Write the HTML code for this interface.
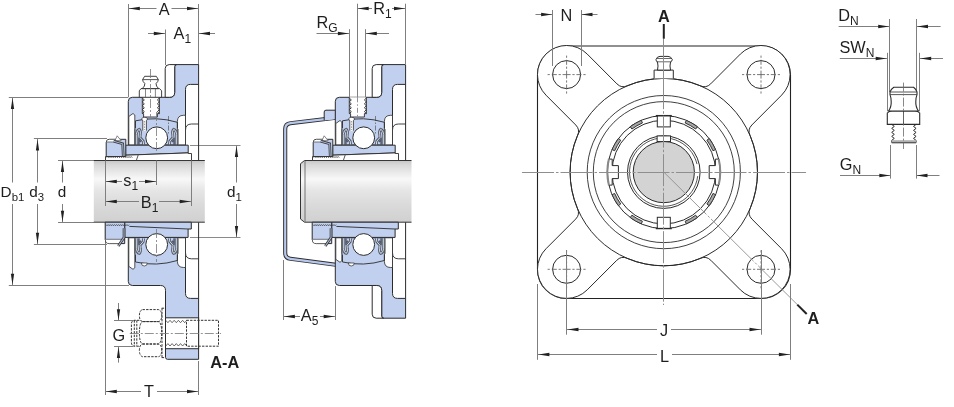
<!DOCTYPE html><html><head><meta charset="utf-8"><style>
html,body{margin:0;padding:0;background:#fff;width:954px;height:407px;overflow:hidden}
svg{display:block;font-family:"Liberation Sans",sans-serif;will-change:transform}
</style></head><body>
<svg width="954" height="407" viewBox="0 0 954 407">
<defs><linearGradient id="sg" x1="0" y1="0" x2="0" y2="1"><stop offset="0" stop-color="#c6c6c6"/><stop offset="0.07" stop-color="#d8d8d8"/><stop offset="0.3" stop-color="#f8f8f8"/><stop offset="0.48" stop-color="#e6e6e6"/><stop offset="0.72" stop-color="#dadada"/><stop offset="1" stop-color="#d0d0d0"/></linearGradient><linearGradient id="sgh" x1="0" y1="0" x2="1" y2="0"><stop offset="0" stop-color="#fff" stop-opacity="0.7"/><stop offset="0.1" stop-color="#fff" stop-opacity="0"/><stop offset="0.9" stop-color="#fff" stop-opacity="0"/><stop offset="1" stop-color="#fff" stop-opacity="0.7"/></linearGradient></defs>
<line x1="128.50" y1="4.00" x2="128.50" y2="97.00" stroke="#7f7f7f" stroke-width="1.0" />
<line x1="198.50" y1="4.00" x2="198.50" y2="65.00" stroke="#7f7f7f" stroke-width="1.0" />
<line x1="128.30" y1="8.50" x2="156.50" y2="8.50" stroke="#7f7f7f" stroke-width="1.0" />
<line x1="171.50" y1="8.50" x2="198.50" y2="8.50" stroke="#7f7f7f" stroke-width="1.0" />
<polygon points="128.80,8.50 139.80,6.85 139.80,10.15" fill="#222"/>
<polygon points="198.00,8.50 187.00,6.85 187.00,10.15" fill="#222"/>
<text x="164.2" y="14.6" font-size="16.3" font-weight="normal" text-anchor="middle" fill="#1e1e1e">A</text>
<line x1="165.50" y1="29.50" x2="165.50" y2="65.00" stroke="#7f7f7f" stroke-width="1.0" />
<line x1="148.00" y1="33.50" x2="165.30" y2="33.50" stroke="#7f7f7f" stroke-width="1.0" />
<polygon points="164.80,33.50 153.80,31.85 153.80,35.15" fill="#222"/>
<line x1="198.50" y1="33.50" x2="215.00" y2="33.50" stroke="#7f7f7f" stroke-width="1.0" />
<polygon points="199.00,33.50 210.00,31.85 210.00,35.15" fill="#222"/>
<text x="173.5" y="39.2" font-size="16.3" fill="#1e1e1e">A<tspan font-size="12" dy="4">1</tspan></text>
<line x1="8.80" y1="97.50" x2="128.30" y2="97.50" stroke="#7f7f7f" stroke-width="1.0" />
<line x1="8.80" y1="285.50" x2="129.00" y2="285.50" stroke="#7f7f7f" stroke-width="1.0" />
<line x1="12.50" y1="97.40" x2="12.50" y2="182.50" stroke="#7f7f7f" stroke-width="1.0" />
<line x1="12.50" y1="204.00" x2="12.50" y2="285.20" stroke="#7f7f7f" stroke-width="1.0" />
<polygon points="12.50,97.90 10.85,108.90 14.15,108.90" fill="#222"/>
<polygon points="12.50,284.70 10.85,273.70 14.15,273.70" fill="#222"/>
<text x="0.6" y="197" font-size="15.3" fill="#1e1e1e">D<tspan font-size="11.4" dy="3.6">b1</tspan></text>
<line x1="33.90" y1="138.50" x2="107.00" y2="138.50" stroke="#7f7f7f" stroke-width="1.0" />
<line x1="33.90" y1="244.50" x2="107.00" y2="244.50" stroke="#7f7f7f" stroke-width="1.0" />
<line x1="37.50" y1="138.90" x2="37.50" y2="182.50" stroke="#7f7f7f" stroke-width="1.0" />
<line x1="37.50" y1="204.00" x2="37.50" y2="244.20" stroke="#7f7f7f" stroke-width="1.0" />
<polygon points="37.50,139.40 35.85,150.40 39.15,150.40" fill="#222"/>
<polygon points="37.50,243.70 35.85,232.70 39.15,232.70" fill="#222"/>
<text x="29.2" y="197" font-size="15.3" fill="#1e1e1e">d<tspan font-size="11.4" dy="3.6">3</tspan></text>
<line x1="58.00" y1="160.50" x2="94.00" y2="160.50" stroke="#7f7f7f" stroke-width="1.0" />
<line x1="58.00" y1="222.50" x2="94.00" y2="222.50" stroke="#7f7f7f" stroke-width="1.0" />
<line x1="62.50" y1="160.50" x2="62.50" y2="182.50" stroke="#7f7f7f" stroke-width="1.0" />
<line x1="62.50" y1="204.00" x2="62.50" y2="222.20" stroke="#7f7f7f" stroke-width="1.0" />
<polygon points="62.50,161.00 60.85,172.00 64.15,172.00" fill="#222"/>
<polygon points="62.50,221.70 60.85,210.70 64.15,210.70" fill="#222"/>
<text x="57.8" y="197" font-size="15.3" font-weight="normal" text-anchor="start" fill="#1e1e1e">d</text>
<line x1="190.00" y1="145.50" x2="240.50" y2="145.50" stroke="#8a8a8a" stroke-width="1.0" />
<line x1="190.00" y1="237.50" x2="240.50" y2="237.50" stroke="#8a8a8a" stroke-width="1.0" />
<line x1="236.50" y1="145.50" x2="236.50" y2="182.50" stroke="#7f7f7f" stroke-width="1.0" />
<line x1="236.50" y1="204.00" x2="236.50" y2="237.50" stroke="#7f7f7f" stroke-width="1.0" />
<polygon points="236.50,145.90 234.85,156.90 238.15,156.90" fill="#222"/>
<polygon points="236.50,237.10 234.85,226.10 238.15,226.10" fill="#222"/>
<text x="227" y="197" font-size="15.3" fill="#1e1e1e">d<tspan font-size="11.4" dy="3.6">1</tspan></text>
<line x1="114.00" y1="320.50" x2="133.00" y2="320.50" stroke="#7f7f7f" stroke-width="1.0" />
<line x1="114.00" y1="346.50" x2="133.00" y2="346.50" stroke="#7f7f7f" stroke-width="1.0" />
<line x1="118.50" y1="303.00" x2="118.50" y2="320.70" stroke="#7f7f7f" stroke-width="1.0" />
<polygon points="118.50,320.20 116.85,309.20 120.15,309.20" fill="#222"/>
<line x1="118.50" y1="346.40" x2="118.50" y2="362.60" stroke="#7f7f7f" stroke-width="1.0" />
<polygon points="118.50,346.90 116.85,357.90 120.15,357.90" fill="#222"/>
<text x="112.5" y="340.5" font-size="16.3" font-weight="normal" text-anchor="start" fill="#1e1e1e">G</text>
<line x1="105.50" y1="222.00" x2="105.50" y2="395.00" stroke="#7f7f7f" stroke-width="1.0" />
<line x1="198.50" y1="361.00" x2="198.50" y2="395.00" stroke="#7f7f7f" stroke-width="1.0" />
<line x1="105.30" y1="391.50" x2="141.00" y2="391.50" stroke="#7f7f7f" stroke-width="1.0" />
<line x1="157.00" y1="391.50" x2="198.50" y2="391.50" stroke="#7f7f7f" stroke-width="1.0" />
<polygon points="105.80,391.50 116.80,389.85 116.80,393.15" fill="#222"/>
<polygon points="198.00,391.50 187.00,389.85 187.00,393.15" fill="#222"/>
<text x="149" y="397.3" font-size="16.3" font-weight="normal" text-anchor="middle" fill="#1e1e1e">T</text>
<text x="210.3" y="367.5" font-size="16.3" font-weight="bold" text-anchor="start" fill="#1e1e1e">A-A</text>
<rect x="93.8" y="160.5" width="111.00000000000001" height="61.7" fill="url(#sg)"/>
<line x1="93.8" y1="160.5" x2="204.8" y2="160.5" stroke="#333" stroke-width="1"/>
<line x1="93.8" y1="222.2" x2="204.8" y2="222.2" stroke="#333" stroke-width="1"/>
<path d="M128.3 101.3 Q128.3 97.3 132.3 97.3 L169.7 97.3 Q174.7 97.3 174.7 92.3 L174.7 66.6 Q174.7 64.6 176.7 64.6 L198.6 64.6 L198.6 84.4 L190.5 84.4 Q185.5 84.4 185.5 89.4 L185.5 145 L128.3 145 Z" fill="#c1d0ef" stroke="#2b2b2b" stroke-width="1"/><path d="M165.2 97.3 L165.2 68.6 Q165.2 64.6 169.2 64.6 L176.7 64.6 Q174.7 64.6 174.7 66.6 L174.7 92.3 Q174.7 97.3 169.7 97.3 Z" fill="#fff" stroke="#2b2b2b" stroke-width="1"/>
<line x1="198.6" y1="84.2" x2="198.6" y2="160.5" stroke="#2b2b2b" stroke-width="1"/><path d="M185.5 130 Q185.5 124 191.5 124 L198.6 124" fill="none" stroke="#2b2b2b" stroke-width="0.9"/><path d="M128.8 116.5 L133 113.5 L134.8 115 L134.8 145 L128.8 145 Z" fill="#fff" stroke="#2b2b2b" stroke-width="0.8"/><line x1="168.5" y1="116" x2="168.5" y2="134" stroke="#666" stroke-width="0.8" stroke-dasharray="5 1.5 1.5 1.5"/><path d="M177.4 145 L177.4 121.5 Q177.4 115.3 183.6 115.3 L185.5 115.3 L185.5 145 Z" fill="#fff" stroke="#2b2b2b" stroke-width="0.8"/><path d="M135.5 128.3 L135.5 120.8 Q156.5 116 177.4 122.3 L177.4 128.3" fill="none" stroke="#2b2b2b" stroke-width="0.9"/><path d="M136.30 144.5 L136.30 134.5 Q136.80 130 139.30 129.3 Q141.00 131 140.30 134.5 L140.00 137.5 L143.20 141.2 L143.60 144.5" fill="none" stroke="#535b6b" stroke-width="2.8"/><path d="M136.30 144.5 L136.30 134.5 Q136.80 130 139.30 129.3 Q141.00 131 140.30 134.5 L140.00 137.5 L143.20 141.2 L143.60 144.5" fill="none" stroke="#e9edf5" stroke-width="0.9"/><path d="M138.90 144.5 L138.90 139.5 L141.00 142" fill="none" stroke="#535b6b" stroke-width="1.6"/><path d="M134.90 129 L134.90 144.5" fill="none" stroke="#555" stroke-width="0.9"/><path d="M176.70 144.5 L176.70 134.5 Q176.20 130 173.70 129.3 Q172.00 131 172.70 134.5 L173.00 137.5 L169.80 141.2 L169.40 144.5" fill="none" stroke="#535b6b" stroke-width="2.8"/><path d="M176.70 144.5 L176.70 134.5 Q176.20 130 173.70 129.3 Q172.00 131 172.70 134.5 L173.00 137.5 L169.80 141.2 L169.40 144.5" fill="none" stroke="#e9edf5" stroke-width="0.9"/><path d="M174.10 144.5 L174.10 139.5 L172.00 142" fill="none" stroke="#535b6b" stroke-width="1.6"/><path d="M178.10 129 L178.10 144.5" fill="none" stroke="#555" stroke-width="0.9"/><path d="M142.8 130.7 L142.8 120.5 Q141.6 120 141.8 118.8 Q142.5 117 144.6 117 Q146.7 117 147.4 118.8 Q147.6 120 146.4 120.5 L146.4 130.7" fill="#fff" stroke="#2b2b2b" stroke-width="0.8"/><line x1="144.6" y1="121" x2="144.6" y2="130" stroke="#777" stroke-width="0.8" stroke-dasharray="1.5 1.2"/><path d="M142.3 97.3 L142.3 113.6 L143.6 113.6 L143.6 117 L157.4 117 L157.4 113.6 L159.4 113.6 L159.4 97.3" fill="#fff" stroke="#2b2b2b" stroke-width="0.9"/><path d="M142.3 98.0 l2 1.95 l-2 1.95 M159.4 98.0 l-2 1.95 l2 1.95 M142.3 101.9 l2 1.95 l-2 1.95 M159.4 101.9 l-2 1.95 l2 1.95 M142.3 105.8 l2 1.95 l-2 1.95 M159.4 105.8 l-2 1.95 l2 1.95 M142.3 109.7 l2 1.95 l-2 1.95 M159.4 109.7 l-2 1.95 l2 1.95 " fill="none" stroke="#333" stroke-width="1"/><path d="M125.6 145.2 L188.2 145.2 L188.2 152.9 L125.6 155.2 Z" fill="#c1d0ef" stroke="#2b2b2b" stroke-width="1"/><path d="M106.2 156.5 L106.2 142.5 Q106.2 139.3 109.4 139.3 L125.8 139.3 L125.8 156.5 Z" fill="#c1d0ef" stroke="#2b2b2b" stroke-width="1"/><path d="M106.7 142 L106.7 142.5 Q106.7 139.8 109.4 139.8 L116 139.8 L113.6 142 Z" fill="#fff"/><line x1="106.2" y1="142" x2="113.6" y2="142" stroke="#555" stroke-width="0.8"/><path d="M117.2 135.8 L121.2 140.8 L115 140.5 Z" fill="#fff" stroke="#555" stroke-width="0.7"/><path d="M113.6 141.3 L122.7 143.8 L123.2 156.3" fill="none" stroke="#333" stroke-width="2.6"/><path d="M113.6 141.3 L122.7 143.8 L123.2 156.3" fill="none" stroke="#a9b6d0" stroke-width="1.1"/><path d="M105.5 160.5 L105.5 156.5 L125.8 156.5 L125.8 155.2 L188.2 152.9 L188.2 153.5 L191.5 153.5 L191.5 160.5 Z" fill="#fff" stroke="#2b2b2b" stroke-width="0.9"/><path d="M106.8 157.6 l1.06 -1.1 l1.06 1.1 l1.06 -1.1 l1.06 1.1 l1.06 -1.1 l1.06 1.1 l1.06 -1.1 l1.06 1.1 l1.06 -1.1 l1.06 1.1 l1.06 -1.1 l1.06 1.1 l1.06 -1.1 l1.06 1.1 l1.06 -1.1 l1.06 1.1 l1.06 -1.1 l1.06 1.1 l1.06 -1.1 l1.06 1.1 l1.06 -1.1 l1.06 1.1 l1.06 -1.1 l1.06 1.1 " fill="none" stroke="#333" stroke-width="0.8"/><line x1="138.2" y1="155" x2="136.4" y2="160.3" stroke="#444" stroke-width="0.9"/><circle cx="156.7" cy="137.8" r="10.9" fill="#fff" stroke="#2b2b2b" stroke-width="1"/>
<path d="M139.3 97.3 L139.3 90.8 L141 88.6 L159.6 88.6 L161.6 90.8 L161.6 97.3 Z" fill="#fff" stroke="#2b2b2b" stroke-width="0.9"/><line x1="145.5" y1="88.6" x2="145.5" y2="97.3" stroke="#555" stroke-width="0.7"/><line x1="155.4" y1="88.6" x2="155.4" y2="97.3" stroke="#555" stroke-width="0.7"/><path d="M142.3 88.6 Q145.2 86 144.8 83.5 Q142.6 81.5 142.6 79.6 L144.6 76.3 L156.3 76.3 L158.3 79.6 Q158.3 81.5 156.1 83.5 Q155.7 86 158.6 88.6 Z" fill="#fff" stroke="#2b2b2b" stroke-width="0.9"/><line x1="142.6" y1="79.6" x2="158.3" y2="79.6" stroke="#444" stroke-width="0.9"/>
<line x1="150.50" y1="69.00" x2="150.50" y2="117.00" stroke="#777" stroke-width="0.8" stroke-dasharray="9 2 2 2"/>
<path d="M128.3 237 L128.3 281.5 Q128.3 285.5 132.3 285.5 L160.5 285.5 Q165.5 285.5 165.5 290.5 L165.5 357.3 Q165.5 359.3 167.5 359.3 L198.6 359.3 L198.6 298.4 L190.5 298.4 Q185.5 298.4 185.5 293.4 L185.5 237 Z" fill="#c1d0ef" stroke="#2b2b2b" stroke-width="1"/>
<g transform="translate(0 382.8) scale(1 -1)"><line x1="198.6" y1="84.2" x2="198.6" y2="160.5" stroke="#2b2b2b" stroke-width="1"/><path d="M185.5 130 Q185.5 124 191.5 124 L198.6 124" fill="none" stroke="#2b2b2b" stroke-width="0.9"/><path d="M128.8 116.5 L133 113.5 L134.8 115 L134.8 145 L128.8 145 Z" fill="#fff" stroke="#2b2b2b" stroke-width="0.8"/><path d="M177.4 145 L177.4 121.5 Q177.4 115.3 183.6 115.3 L185.5 115.3 L185.5 145 Z" fill="#fff" stroke="#2b2b2b" stroke-width="0.8"/><path d="M135.5 128.3 L135.5 120.8 Q156.5 116 177.4 122.3 L177.4 128.3" fill="none" stroke="#2b2b2b" stroke-width="0.9"/><path d="M136.30 144.5 L136.30 134.5 Q136.80 130 139.30 129.3 Q141.00 131 140.30 134.5 L140.00 137.5 L143.20 141.2 L143.60 144.5" fill="none" stroke="#535b6b" stroke-width="2.8"/><path d="M136.30 144.5 L136.30 134.5 Q136.80 130 139.30 129.3 Q141.00 131 140.30 134.5 L140.00 137.5 L143.20 141.2 L143.60 144.5" fill="none" stroke="#e9edf5" stroke-width="0.9"/><path d="M138.90 144.5 L138.90 139.5 L141.00 142" fill="none" stroke="#535b6b" stroke-width="1.6"/><path d="M134.90 129 L134.90 144.5" fill="none" stroke="#555" stroke-width="0.9"/><path d="M176.70 144.5 L176.70 134.5 Q176.20 130 173.70 129.3 Q172.00 131 172.70 134.5 L173.00 137.5 L169.80 141.2 L169.40 144.5" fill="none" stroke="#535b6b" stroke-width="2.8"/><path d="M176.70 144.5 L176.70 134.5 Q176.20 130 173.70 129.3 Q172.00 131 172.70 134.5 L173.00 137.5 L169.80 141.2 L169.40 144.5" fill="none" stroke="#e9edf5" stroke-width="0.9"/><path d="M174.10 144.5 L174.10 139.5 L172.00 142" fill="none" stroke="#535b6b" stroke-width="1.6"/><path d="M178.10 129 L178.10 144.5" fill="none" stroke="#555" stroke-width="0.9"/><path d="M141.3 119.8 A3 3 0 0 1 147.3 119.8 Z" fill="#fff" stroke="#2b2b2b" stroke-width="0.7"/></g><path d="M124.7 222.2 L191.3 222.2 L191.3 229 L188.1 229 L188.1 237.4 L124.7 237.4 Z" fill="#c1d0ef" stroke="#2b2b2b" stroke-width="1"/><path d="M129.4 226.4 L188.1 229" fill="none" stroke="#2b2b2b" stroke-width="0.9"/><path d="M105.2 222.2 L124.7 222.2 L124.7 243.6 L109.2 243.6 Q105.2 243.6 105.2 239.6 Z" fill="#c1d0ef" stroke="#2b2b2b" stroke-width="1"/><path d="M105.6 239.3 L123 239.3 L120.5 243.2 L109.2 243.2 Q105.6 243.2 105.6 239.6 Z" fill="#fff" stroke="none"/><line x1="105.2" y1="239.3" x2="123" y2="239.3" stroke="#555" stroke-width="0.8"/><path d="M124 228.3 L124 237.5 L118.3 246" fill="none" stroke="#333" stroke-width="2.6"/><path d="M124 228.3 L124 237.5 L118.3 246" fill="none" stroke="#a9b6d0" stroke-width="1.1"/><path d="M106 224.6 l1.05 1.1 l1.05 -1.1 l1.05 1.1 l1.05 -1.1 l1.05 1.1 l1.05 -1.1 l1.05 1.1 l1.05 -1.1 l1.05 1.1 l1.05 -1.1 l1.05 1.1 l1.05 -1.1 l1.05 1.1 l1.05 -1.1 l1.05 1.1 l1.05 -1.1 l1.05 1.1 l1.05 -1.1 l1.05 1.1 l1.05 -1.1 l1.05 1.1 l1.05 -1.1 " fill="none" stroke="#333" stroke-width="0.8"/><circle cx="156.7" cy="244.5" r="10.9" fill="#fff" stroke="#2b2b2b" stroke-width="1"/>
<rect x="165.5" y="317.8" width="33.1" height="30.9" fill="#fff" stroke="#2b2b2b" stroke-width="1"/>
<path d="M165.8 320.3 l2.1 2.4 l2.1 -2.4 l2.1 2.4 l2.1 -2.4 l2.1 2.4 l2.1 -2.4 l2.1 2.4 l2.1 -2.4 l2.1 2.4 l2.1 -2.4 M165.8 346 l2.1 -2.4 l2.1 2.4 l2.1 -2.4 l2.1 2.4 l2.1 -2.4 l2.1 2.4 l2.1 -2.4 l2.1 2.4 l2.1 -2.4 l2.1 2.4 " fill="none" stroke="#444" stroke-width="0.8"/>
<path d="M186.5 320.3 L218.5 320.3 L218.5 346.2 L186.5 346.2 Z" fill="none" stroke="#333" stroke-width="1" stroke-dasharray="2.4 1.2"/>
<path d="M142.5 309.6 L158.6 309.6 Q161.7 310.5 161.7 315.6 Q161.7 320.7 158.6 321.6 L142.5 321.6 Q139.4 320.7 139.4 315.6 Q139.4 310.5 142.5 309.6 Z M142.5 321.6 L158.6 321.6 Q161.7 323 161.7 332.8 Q161.7 342.6 158.6 344 L142.5 344 Q139.4 342.6 139.4 332.8 Q139.4 323 142.5 321.6 Z M142.5 344 L158.6 344 Q161.7 344.9 161.7 350.3 Q161.7 355.7 158.6 356.7 L142.5 356.7 Q139.4 355.7 139.4 350.3 Q139.4 344.9 142.5 344 Z" fill="none" stroke="#333" stroke-width="1" stroke-dasharray="2.4 1.2"/>
<path d="M161.7 308.2 L165.3 308.2 M161.7 357.6 L165.3 357.6 M162 308.2 L162 357.6" fill="none" stroke="#333" stroke-width="1" stroke-dasharray="2.4 1.2"/>
<path d="M139.4 320.3 L134 320.3 Q131.4 321 131.4 324 L131.4 342.5 Q131.4 345.5 134 346.2 L139.4 346.2 M134.3 320.3 L134.3 346.2 M136.8 320.3 L136.8 346.2" fill="none" stroke="#333" stroke-width="1" stroke-dasharray="2.4 1.2"/>
<line x1="129.80" y1="333.50" x2="221.00" y2="333.50" stroke="#777" stroke-width="0.8" stroke-dasharray="9 2 2 2"/>
<line x1="156.50" y1="112.00" x2="156.50" y2="153.00" stroke="#777" stroke-width="0.8" stroke-dasharray="9 2 2 2"/>
<line x1="156.50" y1="229.00" x2="156.50" y2="262.00" stroke="#777" stroke-width="0.8" stroke-dasharray="9 2 2 2"/>
<path d="M304.5 160.5 L411.5 160.5 L411.5 222.2 L304.5 222.2 L300.5 219 L300.5 163.7 Z" fill="url(#sg)"/>
<path d="M411.5 160.5 L304.5 160.5 L300.5 163.7 L300.5 219 L304.5 222.2 L411.5 222.2" fill="none" stroke="#333" stroke-width="1"/>
<line x1="305.0" y1="161" x2="305.0" y2="221.7" stroke="#555" stroke-width="0.8"/>
<path d="M340 117.3 L290.5 123.2 Q285.2 123.8 285.2 129 L285.2 253 Q285.2 258.2 290.5 258.8 L336 264.8 L340.5 268.8" fill="none" stroke="#2e2e2e" stroke-width="4.1" stroke-linejoin="round"/>
<path d="M340 117.3 L290.5 123.2 Q285.2 123.8 285.2 129 L285.2 253 Q285.2 258.2 290.5 258.8 L336 264.8 L340.5 268.8" fill="none" stroke="#b8c8ec" stroke-width="2.2" stroke-linejoin="round"/>
<path d="M324.2 120 L324.2 112 Q324.2 110.2 326 110.2 L335.5 110.2 L335.5 119" fill="#c1d0ef" stroke="#2b2b2b" stroke-width="1"/>
<path d="M325 120.3 L335 119 L335 116.5 L325 118 Z" fill="#c1d0ef"/>
<g transform="translate(207 0)"><path d="M128.3 101.3 Q128.3 97.3 132.3 97.3 L169.7 97.3 Q174.7 97.3 174.7 92.3 L174.7 66.6 Q174.7 64.6 176.7 64.6 L198.6 64.6 L198.6 84.4 L190.5 84.4 Q185.5 84.4 185.5 89.4 L185.5 145 L128.3 145 Z" fill="#c1d0ef" stroke="#2b2b2b" stroke-width="1"/><path d="M165.2 97.3 L165.2 68.6 Q165.2 64.6 169.2 64.6 L176.7 64.6 Q174.7 64.6 174.7 66.6 L174.7 92.3 Q174.7 97.3 169.7 97.3 Z" fill="#fff" stroke="#2b2b2b" stroke-width="1"/><line x1="198.6" y1="84.2" x2="198.6" y2="160.5" stroke="#2b2b2b" stroke-width="1"/><path d="M185.5 130 Q185.5 124 191.5 124 L198.6 124" fill="none" stroke="#2b2b2b" stroke-width="0.9"/><path d="M128.8 123.5 L133 120.5 L134.8 122 L134.8 145 L128.8 145 Z" fill="#fff" stroke="#2b2b2b" stroke-width="0.8"/><line x1="168.5" y1="116" x2="168.5" y2="134" stroke="#666" stroke-width="0.8" stroke-dasharray="5 1.5 1.5 1.5"/><path d="M177.4 145 L177.4 121.5 Q177.4 115.3 183.6 115.3 L185.5 115.3 L185.5 145 Z" fill="#fff" stroke="#2b2b2b" stroke-width="0.8"/><path d="M135.5 128.3 L135.5 120.8 Q156.5 116 177.4 122.3 L177.4 128.3" fill="none" stroke="#2b2b2b" stroke-width="0.9"/><path d="M136.30 144.5 L136.30 134.5 Q136.80 130 139.30 129.3 Q141.00 131 140.30 134.5 L140.00 137.5 L143.20 141.2 L143.60 144.5" fill="none" stroke="#535b6b" stroke-width="2.8"/><path d="M136.30 144.5 L136.30 134.5 Q136.80 130 139.30 129.3 Q141.00 131 140.30 134.5 L140.00 137.5 L143.20 141.2 L143.60 144.5" fill="none" stroke="#e9edf5" stroke-width="0.9"/><path d="M138.90 144.5 L138.90 139.5 L141.00 142" fill="none" stroke="#535b6b" stroke-width="1.6"/><path d="M134.90 129 L134.90 144.5" fill="none" stroke="#555" stroke-width="0.9"/><path d="M176.70 144.5 L176.70 134.5 Q176.20 130 173.70 129.3 Q172.00 131 172.70 134.5 L173.00 137.5 L169.80 141.2 L169.40 144.5" fill="none" stroke="#535b6b" stroke-width="2.8"/><path d="M176.70 144.5 L176.70 134.5 Q176.20 130 173.70 129.3 Q172.00 131 172.70 134.5 L173.00 137.5 L169.80 141.2 L169.40 144.5" fill="none" stroke="#e9edf5" stroke-width="0.9"/><path d="M174.10 144.5 L174.10 139.5 L172.00 142" fill="none" stroke="#535b6b" stroke-width="1.6"/><path d="M178.10 129 L178.10 144.5" fill="none" stroke="#555" stroke-width="0.9"/><path d="M142.8 130.7 L142.8 120.5 Q141.6 120 141.8 118.8 Q142.5 117 144.6 117 Q146.7 117 147.4 118.8 Q147.6 120 146.4 120.5 L146.4 130.7" fill="#fff" stroke="#2b2b2b" stroke-width="0.8"/><line x1="144.6" y1="121" x2="144.6" y2="130" stroke="#777" stroke-width="0.8" stroke-dasharray="1.5 1.2"/><path d="M142.3 97.3 L142.3 113.6 L143.6 113.6 L143.6 117 L157.4 117 L157.4 113.6 L159.4 113.6 L159.4 97.3" fill="#fff" stroke="#2b2b2b" stroke-width="0.9"/><path d="M142.3 98.0 l2 1.95 l-2 1.95 M159.4 98.0 l-2 1.95 l2 1.95 M142.3 101.9 l2 1.95 l-2 1.95 M159.4 101.9 l-2 1.95 l2 1.95 M142.3 105.8 l2 1.95 l-2 1.95 M159.4 105.8 l-2 1.95 l2 1.95 M142.3 109.7 l2 1.95 l-2 1.95 M159.4 109.7 l-2 1.95 l2 1.95 " fill="none" stroke="#333" stroke-width="1"/><path d="M125.6 145.2 L188.2 145.2 L188.2 152.9 L125.6 155.2 Z" fill="#c1d0ef" stroke="#2b2b2b" stroke-width="1"/><path d="M106.2 156.5 L106.2 142.5 Q106.2 139.3 109.4 139.3 L125.8 139.3 L125.8 156.5 Z" fill="#c1d0ef" stroke="#2b2b2b" stroke-width="1"/><path d="M106.7 142 L106.7 142.5 Q106.7 139.8 109.4 139.8 L116 139.8 L113.6 142 Z" fill="#fff"/><line x1="106.2" y1="142" x2="113.6" y2="142" stroke="#555" stroke-width="0.8"/><path d="M117.2 135.8 L121.2 140.8 L115 140.5 Z" fill="#fff" stroke="#555" stroke-width="0.7"/><path d="M113.6 141.3 L122.7 143.8 L123.2 156.3" fill="none" stroke="#333" stroke-width="2.6"/><path d="M113.6 141.3 L122.7 143.8 L123.2 156.3" fill="none" stroke="#a9b6d0" stroke-width="1.1"/><path d="M105.5 160.5 L105.5 156.5 L125.8 156.5 L125.8 155.2 L188.2 152.9 L188.2 153.5 L191.5 153.5 L191.5 160.5 Z" fill="#fff" stroke="#2b2b2b" stroke-width="0.9"/><path d="M106.8 157.6 l1.06 -1.1 l1.06 1.1 l1.06 -1.1 l1.06 1.1 l1.06 -1.1 l1.06 1.1 l1.06 -1.1 l1.06 1.1 l1.06 -1.1 l1.06 1.1 l1.06 -1.1 l1.06 1.1 l1.06 -1.1 l1.06 1.1 l1.06 -1.1 l1.06 1.1 l1.06 -1.1 l1.06 1.1 l1.06 -1.1 l1.06 1.1 l1.06 -1.1 l1.06 1.1 l1.06 -1.1 l1.06 1.1 " fill="none" stroke="#333" stroke-width="0.8"/><line x1="138.2" y1="155" x2="136.4" y2="160.3" stroke="#444" stroke-width="0.9"/><circle cx="156.7" cy="137.8" r="10.9" fill="#fff" stroke="#2b2b2b" stroke-width="1"/></g>
<g transform="translate(207 382.8) scale(1 -1)"><path d="M128.3 101.3 Q128.3 97.3 132.3 97.3 L169.7 97.3 Q174.7 97.3 174.7 92.3 L174.7 66.6 Q174.7 64.6 176.7 64.6 L198.6 64.6 L198.6 84.4 L190.5 84.4 Q185.5 84.4 185.5 89.4 L185.5 145 L128.3 145 Z" fill="#c1d0ef" stroke="#2b2b2b" stroke-width="1"/><path d="M165.2 97.3 L165.2 68.6 Q165.2 64.6 169.2 64.6 L176.7 64.6 Q174.7 64.6 174.7 66.6 L174.7 92.3 Q174.7 97.3 169.7 97.3 Z" fill="#fff" stroke="#2b2b2b" stroke-width="1"/><line x1="198.6" y1="84.2" x2="198.6" y2="160.5" stroke="#2b2b2b" stroke-width="1"/><path d="M185.5 130 Q185.5 124 191.5 124 L198.6 124" fill="none" stroke="#2b2b2b" stroke-width="0.9"/><path d="M128.8 123.5 L133 120.5 L134.8 122 L134.8 145 L128.8 145 Z" fill="#fff" stroke="#2b2b2b" stroke-width="0.8"/><path d="M177.4 145 L177.4 121.5 Q177.4 115.3 183.6 115.3 L185.5 115.3 L185.5 145 Z" fill="#fff" stroke="#2b2b2b" stroke-width="0.8"/><path d="M135.5 128.3 L135.5 120.8 Q156.5 116 177.4 122.3 L177.4 128.3" fill="none" stroke="#2b2b2b" stroke-width="0.9"/><path d="M136.30 144.5 L136.30 134.5 Q136.80 130 139.30 129.3 Q141.00 131 140.30 134.5 L140.00 137.5 L143.20 141.2 L143.60 144.5" fill="none" stroke="#535b6b" stroke-width="2.8"/><path d="M136.30 144.5 L136.30 134.5 Q136.80 130 139.30 129.3 Q141.00 131 140.30 134.5 L140.00 137.5 L143.20 141.2 L143.60 144.5" fill="none" stroke="#e9edf5" stroke-width="0.9"/><path d="M138.90 144.5 L138.90 139.5 L141.00 142" fill="none" stroke="#535b6b" stroke-width="1.6"/><path d="M134.90 129 L134.90 144.5" fill="none" stroke="#555" stroke-width="0.9"/><path d="M176.70 144.5 L176.70 134.5 Q176.20 130 173.70 129.3 Q172.00 131 172.70 134.5 L173.00 137.5 L169.80 141.2 L169.40 144.5" fill="none" stroke="#535b6b" stroke-width="2.8"/><path d="M176.70 144.5 L176.70 134.5 Q176.20 130 173.70 129.3 Q172.00 131 172.70 134.5 L173.00 137.5 L169.80 141.2 L169.40 144.5" fill="none" stroke="#e9edf5" stroke-width="0.9"/><path d="M174.10 144.5 L174.10 139.5 L172.00 142" fill="none" stroke="#535b6b" stroke-width="1.6"/><path d="M178.10 129 L178.10 144.5" fill="none" stroke="#555" stroke-width="0.9"/><path d="M141.3 119.8 A3 3 0 0 1 147.3 119.8 Z" fill="#fff" stroke="#2b2b2b" stroke-width="0.7"/></g><g transform="translate(207 0)"><path d="M124.7 222.2 L191.3 222.2 L191.3 229 L188.1 229 L188.1 237.4 L124.7 237.4 Z" fill="#c1d0ef" stroke="#2b2b2b" stroke-width="1"/><path d="M129.4 226.4 L188.1 229" fill="none" stroke="#2b2b2b" stroke-width="0.9"/><path d="M105.2 222.2 L124.7 222.2 L124.7 243.6 L109.2 243.6 Q105.2 243.6 105.2 239.6 Z" fill="#c1d0ef" stroke="#2b2b2b" stroke-width="1"/><path d="M105.6 239.3 L123 239.3 L120.5 243.2 L109.2 243.2 Q105.6 243.2 105.6 239.6 Z" fill="#fff" stroke="none"/><line x1="105.2" y1="239.3" x2="123" y2="239.3" stroke="#555" stroke-width="0.8"/><path d="M124 228.3 L124 237.5 L118.3 246" fill="none" stroke="#333" stroke-width="2.6"/><path d="M124 228.3 L124 237.5 L118.3 246" fill="none" stroke="#a9b6d0" stroke-width="1.1"/><path d="M106 224.6 l1.05 1.1 l1.05 -1.1 l1.05 1.1 l1.05 -1.1 l1.05 1.1 l1.05 -1.1 l1.05 1.1 l1.05 -1.1 l1.05 1.1 l1.05 -1.1 l1.05 1.1 l1.05 -1.1 l1.05 1.1 l1.05 -1.1 l1.05 1.1 l1.05 -1.1 l1.05 1.1 l1.05 -1.1 l1.05 1.1 l1.05 -1.1 l1.05 1.1 l1.05 -1.1 " fill="none" stroke="#333" stroke-width="0.8"/><circle cx="156.7" cy="244.5" r="10.9" fill="#fff" stroke="#2b2b2b" stroke-width="1"/></g>
<line x1="349.50" y1="29.20" x2="349.50" y2="97.30" stroke="#7f7f7f" stroke-width="1.0" />
<line x1="357.50" y1="3.70" x2="357.50" y2="97.30" stroke="#7f7f7f" stroke-width="1.0" />
<line x1="365.50" y1="29.20" x2="365.50" y2="97.30" stroke="#7f7f7f" stroke-width="1.0" />
<line x1="357.50" y1="97.30" x2="357.50" y2="117.00" stroke="#777" stroke-width="0.8" stroke-dasharray="5 2 1.5 2"/>
<line x1="405.50" y1="3.70" x2="405.50" y2="65.00" stroke="#7f7f7f" stroke-width="1.0" />
<line x1="316.50" y1="33.50" x2="349.40" y2="33.50" stroke="#7f7f7f" stroke-width="1.0" />
<polygon points="348.90,33.50 337.90,31.85 337.90,35.15" fill="#222"/>
<line x1="365.30" y1="33.50" x2="389.00" y2="33.50" stroke="#7f7f7f" stroke-width="1.0" />
<polygon points="365.80,33.50 376.80,31.85 376.80,35.15" fill="#222"/>
<text x="316.5" y="27.5" font-size="16.3" fill="#1e1e1e">R<tspan font-size="12" dy="4">G</tspan></text>
<line x1="357.20" y1="8.50" x2="372.00" y2="8.50" stroke="#7f7f7f" stroke-width="1.0" />
<polygon points="357.70,8.50 368.70,6.85 368.70,10.15" fill="#222"/>
<line x1="392.00" y1="8.50" x2="405.50" y2="8.50" stroke="#7f7f7f" stroke-width="1.0" />
<polygon points="405.00,8.50 394.00,6.85 394.00,10.15" fill="#222"/>
<text x="373.2" y="14.2" font-size="16.3" fill="#1e1e1e">R<tspan font-size="12" dy="4">1</tspan></text>
<line x1="283.50" y1="260.00" x2="283.50" y2="320.00" stroke="#7f7f7f" stroke-width="1.0" />
<line x1="335.50" y1="286.10" x2="335.50" y2="320.00" stroke="#7f7f7f" stroke-width="1.0" />
<line x1="283.40" y1="316.50" x2="300.00" y2="316.50" stroke="#7f7f7f" stroke-width="1.0" />
<line x1="320.00" y1="316.50" x2="335.20" y2="316.50" stroke="#7f7f7f" stroke-width="1.0" />
<polygon points="283.90,316.50 294.90,314.85 294.90,318.15" fill="#222"/>
<polygon points="334.70,316.50 323.70,314.85 323.70,318.15" fill="#222"/>
<text x="300.8" y="321.3" font-size="16.3" fill="#1e1e1e">A<tspan font-size="12" dy="4">5</tspan></text>
<rect x="537.5" y="46" width="253" height="252.5" rx="29.1" ry="29.1" fill="#fff" stroke="#222" stroke-width="1.1"/><path d="M577.56 135.46 Q580.31 129.57 575.72 124.97 L545.99 95.15 A29.1 29.1 0 1 1 587.21 54.05 L616.94 83.88 Q621.53 88.48 627.42 85.75 A93.7 93.7 0 0 1 700.18 85.75 Q706.07 88.48 710.66 83.88 L740.39 54.05 A29.1 29.1 0 1 1 781.61 95.15 L751.88 124.97 Q747.29 129.57 750.04 135.46 A93.7 93.7 0 0 1 750.09 208.61 Q747.36 214.50 751.95 219.10 L781.58 248.72 A29.1 29.1 0 1 1 740.42 289.88 L710.80 260.25 Q706.20 255.66 700.31 258.39 A93.7 93.7 0 0 1 627.29 258.39 Q621.40 255.66 616.80 260.25 L587.18 289.88 A29.1 29.1 0 1 1 546.02 248.72 L575.65 219.10 Q580.24 214.50 577.51 208.61 A93.7 93.7 0 0 1 577.56 135.46 Z" fill="#fff" stroke="#2b2b2b" stroke-width="1"/><circle cx="566.6" cy="74.6" r="14" fill="none" stroke="#2b2b2b" stroke-width="1"/><circle cx="761.0" cy="74.6" r="14" fill="none" stroke="#2b2b2b" stroke-width="1"/><circle cx="761.0" cy="269.3" r="14" fill="none" stroke="#2b2b2b" stroke-width="1"/><circle cx="566.6" cy="269.3" r="14" fill="none" stroke="#2b2b2b" stroke-width="1"/><circle cx="663.8" cy="172.1" r="93.7" fill="none" stroke="#2b2b2b" stroke-width="1"/><circle cx="663.8" cy="172.1" r="76.6" fill="none" stroke="#2b2b2b" stroke-width="0.9"/><circle cx="663.8" cy="172.1" r="70.5" fill="none" stroke="#2b2b2b" stroke-width="0.9"/><circle cx="663.8" cy="172.1" r="56.5" fill="none" stroke="#2b2b2b" stroke-width="1"/><circle cx="663.8" cy="172.1" r="51.8" fill="none" stroke="#2b2b2b" stroke-width="1"/><path d="M686.33 120.29 A56.5 56.5 0 0 1 697.41 126.68 L695.68 129.01 A53.6 53.6 0 0 0 685.17 122.95 Z" fill="#a8a8a8" stroke="#333" stroke-width="1"/><path d="M709.22 138.49 A56.5 56.5 0 0 1 715.61 149.57 L712.95 150.73 A53.6 53.6 0 0 0 706.89 140.22 Z" fill="#a8a8a8" stroke="#333" stroke-width="1"/><path d="M715.61 194.63 A56.5 56.5 0 0 1 709.22 205.71 L706.89 203.98 A53.6 53.6 0 0 0 712.95 193.47 Z" fill="#a8a8a8" stroke="#333" stroke-width="1"/><path d="M697.41 217.52 A56.5 56.5 0 0 1 686.33 223.91 L685.17 221.25 A53.6 53.6 0 0 0 695.68 215.19 Z" fill="#a8a8a8" stroke="#333" stroke-width="1"/><path d="M641.27 223.91 A56.5 56.5 0 0 1 630.19 217.52 L631.92 215.19 A53.6 53.6 0 0 0 642.43 221.25 Z" fill="#a8a8a8" stroke="#333" stroke-width="1"/><path d="M618.38 205.71 A56.5 56.5 0 0 1 611.99 194.63 L614.65 193.47 A53.6 53.6 0 0 0 620.71 203.98 Z" fill="#a8a8a8" stroke="#333" stroke-width="1"/><path d="M611.99 149.57 A56.5 56.5 0 0 1 618.38 138.49 L620.71 140.22 A53.6 53.6 0 0 0 614.65 150.73 Z" fill="#a8a8a8" stroke="#333" stroke-width="1"/><path d="M630.19 126.68 A56.5 56.5 0 0 1 641.27 120.29 L642.43 122.95 A53.6 53.6 0 0 0 631.92 129.01 Z" fill="#a8a8a8" stroke="#333" stroke-width="1"/><g transform="rotate(0 663.8 172.1)"><rect x="657.3" y="115.8" width="13" height="11.1" fill="#fff" stroke="#2b2b2b" stroke-width="1"/><line x1="655.8" y1="115.6" x2="671.8" y2="115.6" stroke="#2b2b2b" stroke-width="1.3"/></g><g transform="rotate(180 663.8 172.1)"><rect x="657.3" y="115.8" width="13" height="11.1" fill="#fff" stroke="#2b2b2b" stroke-width="1"/><line x1="655.8" y1="115.6" x2="671.8" y2="115.6" stroke="#2b2b2b" stroke-width="1.3"/></g><g transform="rotate(90 663.8 172.1)"><path d="M650.80 117.20 L650.80 120.50 L657.30 120.50 L657.30 126.70 L670.30 126.70 L670.30 120.50 L676.80 120.50 L676.80 117.20 Z" fill="#fff" stroke="none"/><path d="M650.80 117.20 L650.80 120.50 L657.30 120.50 L657.30 126.70 L670.30 126.70 L670.30 120.50 L676.80 120.50 L676.80 117.20" fill="none" stroke="#2b2b2b" stroke-width="1"/><path d="M650.80 117.20 A54.9 54.9 0 0 1 676.80 117.20" fill="none" stroke="#888" stroke-width="2"/></g><g transform="rotate(270 663.8 172.1)"><path d="M650.80 117.20 L650.80 120.50 L657.30 120.50 L657.30 126.70 L670.30 126.70 L670.30 120.50 L676.80 120.50 L676.80 117.20 Z" fill="#fff" stroke="none"/><path d="M650.80 117.20 L650.80 120.50 L657.30 120.50 L657.30 126.70 L670.30 126.70 L670.30 120.50 L676.80 120.50 L676.80 117.20" fill="none" stroke="#2b2b2b" stroke-width="1"/><path d="M650.80 117.20 A54.9 54.9 0 0 1 676.80 117.20" fill="none" stroke="#888" stroke-width="2"/></g><circle cx="663.8" cy="172.1" r="36.3" fill="#fff" stroke="#2b2b2b" stroke-width="1"/><path d="M697.70 176.10 A34.2 34.2 0 1 1 697.00 164.10" fill="none" stroke="#2b2b2b" stroke-width="0.8"/><rect x="657.0999999999999" y="135.89999999999998" width="13.4" height="5.6" fill="#fff" stroke="#2b2b2b" stroke-width="1"/><circle cx="663.8" cy="172.1" r="30.6" fill="#d3d3d3" stroke="#2b2b2b" stroke-width="1"/>
<line x1="566.60" y1="74.60" x2="585.60" y2="74.60" stroke="#555" stroke-width="0.8" stroke-dasharray="4 1.8 2.2 1.8 5 2 20"/>
<line x1="566.60" y1="74.60" x2="547.60" y2="74.60" stroke="#555" stroke-width="0.8" stroke-dasharray="4 1.8 2.2 1.8 5 2 20"/>
<line x1="566.60" y1="74.60" x2="566.60" y2="93.60" stroke="#555" stroke-width="0.8" stroke-dasharray="4 1.8 2.2 1.8 5 2 20"/>
<line x1="566.60" y1="74.60" x2="566.60" y2="55.60" stroke="#555" stroke-width="0.8" stroke-dasharray="4 1.8 2.2 1.8 5 2 20"/>
<line x1="761.00" y1="74.60" x2="780.00" y2="74.60" stroke="#555" stroke-width="0.8" stroke-dasharray="4 1.8 2.2 1.8 5 2 20"/>
<line x1="761.00" y1="74.60" x2="742.00" y2="74.60" stroke="#555" stroke-width="0.8" stroke-dasharray="4 1.8 2.2 1.8 5 2 20"/>
<line x1="761.00" y1="74.60" x2="761.00" y2="93.60" stroke="#555" stroke-width="0.8" stroke-dasharray="4 1.8 2.2 1.8 5 2 20"/>
<line x1="761.00" y1="74.60" x2="761.00" y2="55.60" stroke="#555" stroke-width="0.8" stroke-dasharray="4 1.8 2.2 1.8 5 2 20"/>
<line x1="761.00" y1="269.30" x2="780.00" y2="269.30" stroke="#555" stroke-width="0.8" stroke-dasharray="4 1.8 2.2 1.8 5 2 20"/>
<line x1="761.00" y1="269.30" x2="742.00" y2="269.30" stroke="#555" stroke-width="0.8" stroke-dasharray="4 1.8 2.2 1.8 5 2 20"/>
<line x1="761.00" y1="269.30" x2="761.00" y2="288.30" stroke="#555" stroke-width="0.8" stroke-dasharray="4 1.8 2.2 1.8 5 2 20"/>
<line x1="761.00" y1="269.30" x2="761.00" y2="250.30" stroke="#555" stroke-width="0.8" stroke-dasharray="4 1.8 2.2 1.8 5 2 20"/>
<line x1="566.60" y1="269.30" x2="585.60" y2="269.30" stroke="#555" stroke-width="0.8" stroke-dasharray="4 1.8 2.2 1.8 5 2 20"/>
<line x1="566.60" y1="269.30" x2="547.60" y2="269.30" stroke="#555" stroke-width="0.8" stroke-dasharray="4 1.8 2.2 1.8 5 2 20"/>
<line x1="566.60" y1="269.30" x2="566.60" y2="288.30" stroke="#555" stroke-width="0.8" stroke-dasharray="4 1.8 2.2 1.8 5 2 20"/>
<line x1="566.60" y1="269.30" x2="566.60" y2="250.30" stroke="#555" stroke-width="0.8" stroke-dasharray="4 1.8 2.2 1.8 5 2 20"/>
<line x1="522.00" y1="172.50" x2="806.00" y2="172.50" stroke="#8e8e8e" stroke-width="1" stroke-dasharray="32 2 2.5 2"/>
<line x1="663.50" y1="38.70" x2="663.50" y2="305.00" stroke="#8e8e8e" stroke-width="1" stroke-dasharray="32 2 2.5 2"/>
<line x1="663.80" y1="172.10" x2="797.30" y2="304.60" stroke="#8e8e8e" stroke-width="0.9" stroke-dasharray="60 2 2.5 2"/>
<line x1="797.30" y1="304.60" x2="806.70" y2="314.00" stroke="#222" stroke-width="2" />
<line x1="663.80" y1="24.00" x2="663.80" y2="38.70" stroke="#222" stroke-width="2" />
<text x="663.8" y="21.6" font-size="16.3" font-weight="bold" text-anchor="middle" fill="#1e1e1e">A</text>
<text x="813.5" y="323.8" font-size="16.3" font-weight="bold" text-anchor="middle" fill="#1e1e1e">A</text>
<path d="M654.1 78.4 L654.1 70.1 L673.3 70.1 L673.3 78.4" fill="#fff" stroke="#2b2b2b" stroke-width="1"/>
<path d="M657.5 70.1 Q658.5 66 657.5 62 Q656 61 656 59.5 Q657 56.4 660 56.4 L668 56.4 Q671 56.4 672.3 59.5 Q672.3 61 670.5 62 Q669.5 66 670.5 70.1 Z" fill="#fff" stroke="#2b2b2b" stroke-width="1"/>
<line x1="656.3" y1="58.5" x2="671.7" y2="58.5" stroke="#444" stroke-width="0.8"/><line x1="656.5" y1="61.8" x2="671.5" y2="61.8" stroke="#444" stroke-width="0.8"/>
<line x1="663.50" y1="52.00" x2="663.50" y2="80.00" stroke="#8e8e8e" stroke-width="1" />
<line x1="552.50" y1="10.00" x2="552.50" y2="66.00" stroke="#7f7f7f" stroke-width="1.0" />
<line x1="581.50" y1="10.00" x2="581.50" y2="66.00" stroke="#7f7f7f" stroke-width="1.0" />
<line x1="535.50" y1="14.50" x2="552.60" y2="14.50" stroke="#7f7f7f" stroke-width="1.0" />
<polygon points="552.10,14.50 541.10,12.85 541.10,16.15" fill="#222"/>
<line x1="581.00" y1="14.50" x2="597.50" y2="14.50" stroke="#7f7f7f" stroke-width="1.0" />
<polygon points="581.50,14.50 592.50,12.85 592.50,16.15" fill="#222"/>
<text x="566.5" y="21.3" font-size="16.3" font-weight="normal" text-anchor="middle" fill="#1e1e1e">N</text>
<line x1="566.50" y1="250.00" x2="566.50" y2="334.70" stroke="#7f7f7f" stroke-width="1.0" />
<line x1="761.50" y1="250.00" x2="761.50" y2="334.70" stroke="#7f7f7f" stroke-width="1.0" />
<line x1="567.00" y1="329.50" x2="657.00" y2="329.50" stroke="#7f7f7f" stroke-width="1.0" />
<line x1="671.00" y1="329.50" x2="761.00" y2="329.50" stroke="#7f7f7f" stroke-width="1.0" />
<polygon points="567.50,329.50 578.50,327.85 578.50,331.15" fill="#222"/>
<polygon points="760.50,329.50 749.50,327.85 749.50,331.15" fill="#222"/>
<text x="664" y="335.8" font-size="16.3" font-weight="normal" text-anchor="middle" fill="#1e1e1e">J</text>
<line x1="537.50" y1="284.00" x2="537.50" y2="359.80" stroke="#7f7f7f" stroke-width="1.0" />
<line x1="790.50" y1="284.00" x2="790.50" y2="359.80" stroke="#7f7f7f" stroke-width="1.0" />
<line x1="537.90" y1="354.50" x2="657.00" y2="354.50" stroke="#7f7f7f" stroke-width="1.0" />
<line x1="672.00" y1="354.50" x2="790.40" y2="354.50" stroke="#7f7f7f" stroke-width="1.0" />
<polygon points="538.40,354.50 549.40,352.85 549.40,356.15" fill="#222"/>
<polygon points="789.90,354.50 778.90,352.85 778.90,356.15" fill="#222"/>
<text x="664.5" y="361.8" font-size="16.3" font-weight="normal" text-anchor="middle" fill="#1e1e1e">L</text>
<text x="838.3" y="21" font-size="16.3" fill="#1e1e1e">D<tspan font-size="12" dy="4">N</tspan></text>
<line x1="838.60" y1="26.50" x2="889.70" y2="26.50" stroke="#7f7f7f" stroke-width="1.0" />
<polygon points="889.20,26.50 878.20,24.85 878.20,28.15" fill="#222"/>
<line x1="916.50" y1="26.50" x2="940.60" y2="26.50" stroke="#7f7f7f" stroke-width="1.0" />
<polygon points="917.00,26.50 928.00,24.85 928.00,28.15" fill="#222"/>
<line x1="889.50" y1="19.00" x2="889.50" y2="92.00" stroke="#7f7f7f" stroke-width="1.0" />
<line x1="916.50" y1="19.00" x2="916.50" y2="92.00" stroke="#7f7f7f" stroke-width="1.0" />
<text x="839.5" y="52.8" font-size="16.3" fill="#1e1e1e">SW<tspan font-size="12" dy="4">N</tspan></text>
<line x1="839.80" y1="58.50" x2="887.20" y2="58.50" stroke="#7f7f7f" stroke-width="1.0" />
<polygon points="886.70,58.50 875.70,56.85 875.70,60.15" fill="#222"/>
<line x1="919.70" y1="58.50" x2="943.00" y2="58.50" stroke="#7f7f7f" stroke-width="1.0" />
<polygon points="920.20,58.50 931.20,56.85 931.20,60.15" fill="#222"/>
<line x1="887.50" y1="52.80" x2="887.50" y2="111.00" stroke="#7f7f7f" stroke-width="1.0" />
<line x1="919.50" y1="52.80" x2="919.50" y2="111.00" stroke="#7f7f7f" stroke-width="1.0" />
<text x="839.8" y="169.7" font-size="16.3" fill="#1e1e1e">G<tspan font-size="12" dy="4">N</tspan></text>
<line x1="840.00" y1="175.50" x2="890.80" y2="175.50" stroke="#7f7f7f" stroke-width="1.0" />
<polygon points="890.30,175.50 879.30,173.85 879.30,177.15" fill="#222"/>
<line x1="916.00" y1="175.50" x2="939.50" y2="175.50" stroke="#7f7f7f" stroke-width="1.0" />
<polygon points="916.50,175.50 927.50,173.85 927.50,177.15" fill="#222"/>
<line x1="890.50" y1="145.00" x2="890.50" y2="178.60" stroke="#7f7f7f" stroke-width="1.0" />
<line x1="916.50" y1="145.00" x2="916.50" y2="178.60" stroke="#7f7f7f" stroke-width="1.0" />
<path d="M887.3 124.4 L887.3 113 Q889 111 892 111 L915 111 Q918 111 919.7 113 L919.7 124.4 Z" fill="#fff" stroke="#2b2b2b" stroke-width="1.1"/>
<line x1="903.5" y1="111" x2="903.5" y2="124.4" stroke="#444" stroke-width="0.9"/>
<path d="M888.5 111 Q891.5 107 891.2 101.5 Q891 97 890 94.6 L890 92 Q891 89 893.8 87.2 L913.6 87.2 Q916 89 917 92 L917 94.6 Q916 97 915.8 101.5 Q915.5 107 918.5 111 Z" fill="#fff" stroke="#2b2b2b" stroke-width="1.1"/>
<line x1="890" y1="92" x2="917" y2="92" stroke="#444" stroke-width="0.9"/><line x1="890" y1="94.6" x2="917" y2="94.6" stroke="#444" stroke-width="0.9"/>
<path d="M891.7 124.4 l2.6 2 l-2.6 2 l2.6 2 l-2.6 2 l2.6 2 l-2.6 2 l2.6 2 l-2.6 2 l0 2.2 M916.1 124.4 l-2.6 2 l2.6 2 l-2.6 2 l2.6 2 l-2.6 2 l2.6 2 l-2.6 2 l2.6 2 l0 2.2" fill="none" stroke="#2b2b2b" stroke-width="1"/>
<rect x="891.7" y="140.2" width="24.4" height="2.6" fill="#b0b0b0"/>
<line x1="891.7" y1="142.8" x2="916.1" y2="142.8" stroke="#333" stroke-width="1"/>
<line x1="903.50" y1="82.60" x2="903.50" y2="149.00" stroke="#6a6a6a" stroke-width="0.8" stroke-dasharray="9 2 2 2"/>
<line x1="105.50" y1="160.50" x2="105.50" y2="206.00" stroke="#7f7f7f" stroke-width="1.0" />
<line x1="191.50" y1="160.50" x2="191.50" y2="206.00" stroke="#7f7f7f" stroke-width="1.0" />
<line x1="156.50" y1="160.50" x2="156.50" y2="185.00" stroke="#7f7f7f" stroke-width="1.0" />
<line x1="105.30" y1="181.50" x2="122.00" y2="181.50" stroke="#7f7f7f" stroke-width="1.0" />
<line x1="139.00" y1="181.50" x2="156.50" y2="181.50" stroke="#7f7f7f" stroke-width="1.0" />
<polygon points="105.80,181.50 116.80,179.85 116.80,183.15" fill="#222"/>
<polygon points="156.00,181.50 145.00,179.85 145.00,183.15" fill="#222"/>
<text x="123.3" y="186" font-size="16.3" fill="#1e1e1e">s<tspan font-size="12" dy="4">1</tspan></text>
<line x1="105.30" y1="201.50" x2="139.00" y2="201.50" stroke="#7f7f7f" stroke-width="1.0" />
<line x1="159.00" y1="201.50" x2="191.20" y2="201.50" stroke="#7f7f7f" stroke-width="1.0" />
<polygon points="105.80,201.50 116.80,199.85 116.80,203.15" fill="#222"/>
<polygon points="190.70,201.50 179.70,199.85 179.70,203.15" fill="#222"/>
<text x="140.8" y="207.5" font-size="16.3" fill="#1e1e1e">B<tspan font-size="12" dy="4">1</tspan></text>
</svg></body></html>
